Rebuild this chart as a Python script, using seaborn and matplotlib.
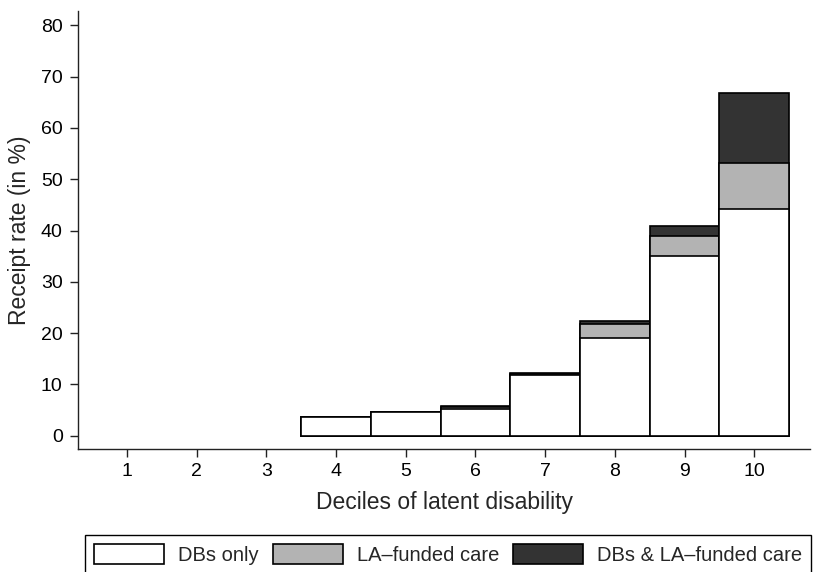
import pandas as pd
import seaborn as sns
import matplotlib.pyplot as plt
from matplotlib.patches import Patch

# receipt rates (%) by decile of latent disability
deciles = [1, 2, 3, 4, 5, 6, 7, 8, 9, 10]
dbs_only = [0, 0, 0, 3.6, 4.55, 5.2, 11.9, 19.1, 35.0, 44.1]
la_funded = [0, 0, 0, 0.0, 0.0, 0.3, 0.15, 2.7, 4.0, 9.1]
dbs_and_la = [0, 0, 0, 0.0, 0.0, 0.35, 0.1, 0.6, 1.9, 13.7]
series_names = ["DBs only", "LA\u2013funded care", "DBs & LA\u2013funded care"]
series_colors = ["#ffffff", "#b3b3b3", "#333333"]

df = pd.DataFrame({"decile": deciles, "dbs": dbs_only,
                   "la": la_funded, "both": dbs_and_la})
df["lvl1"] = df["dbs"]
df["lvl2"] = df["dbs"] + df["la"]
df["lvl3"] = df["lvl2"] + df["both"]
df["decile"] = df["decile"].astype(str)
plot_df = df[df["lvl3"] > 0]
order = [str(d) for d in deciles]

sns.set_style("ticks")
plt.rcParams["font.family"] = ["Liberation Sans", "DejaVu Sans"]

fig = plt.figure(figsize=(8.14, 5.72), dpi=100)
ax = fig.add_axes([78 / 814, 1 - 449 / 572, (810 - 78) / 814, (449 - 11) / 572])

# draw cumulative totals from tallest to shortest so they look stacked
for col, color in zip(["lvl3", "lvl2", "lvl1"], series_colors[::-1]):
    sns.barplot(data=plot_df, x="decile", y=col, order=order, color=color,
                width=1.0, edgecolor="black", linewidth=1.2, saturation=1,
                ax=ax)

ax.set_xlim(-0.7, 9.8)
ax.set_ylim(-2.6, 82.8)
ax.set_yticks(range(0, 81, 10))
ax.tick_params(axis="both", labelsize=14, colors="#222222", length=6, width=1)
ax.tick_params(axis="y", pad=5)
ax.tick_params(axis="x", pad=4)
for lbl in ax.get_xticklabels() + ax.get_yticklabels():
    lbl.set_color("black")
sns.despine(ax=ax)
for s in ["left", "bottom"]:
    ax.spines[s].set_color("#222222")
    ax.spines[s].set_linewidth(1)

ax.set_xlabel("Deciles of latent disability", fontsize=16.5, labelpad=8)
ax.set_ylabel("Receipt rate (in %)", fontsize=16.5, labelpad=7)

leg_size = 14.5
fpx = leg_size * 100 / 72
handles = [Patch(facecolor=c, edgecolor="black", linewidth=1.2)
           for c in series_colors]
leg = fig.legend(handles, series_names, loc="upper left",
                 bbox_to_anchor=(85 / 814, 1 - 535 / 572), ncol=3,
                 fontsize=leg_size, frameon=True, fancybox=False,
                 framealpha=1, edgecolor="black", borderaxespad=0,
                 handlelength=70 / fpx, handleheight=23 / fpx,
                 handletextpad=14 / fpx, columnspacing=14 / fpx,
                 borderpad=9 / fpx)
leg.get_frame().set_linewidth(1)

fig.savefig("out.png", dpi=100)
